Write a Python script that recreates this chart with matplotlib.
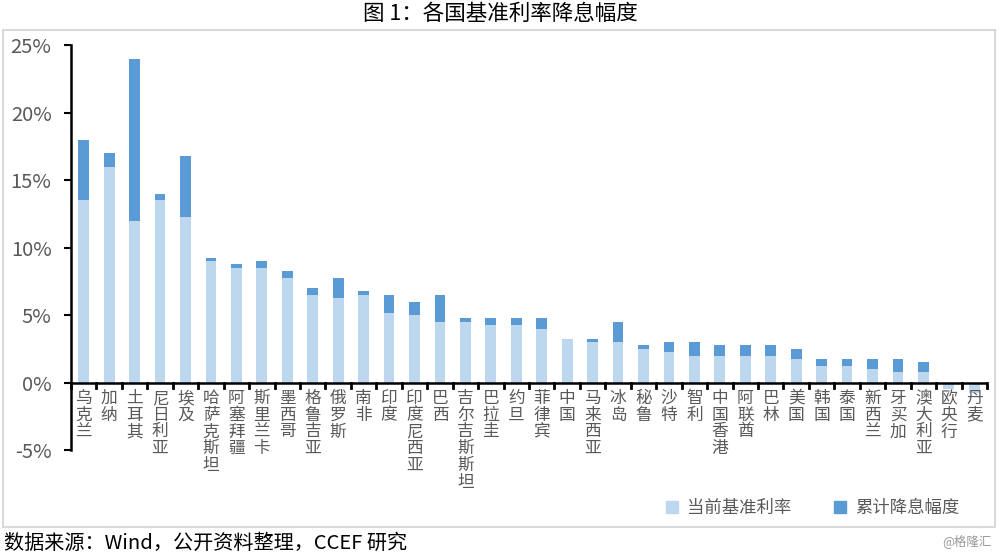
import matplotlib as mpl
mpl.use('Agg')
import matplotlib.pyplot as plt
import matplotlib.ticker as tk
from matplotlib.patches import Rectangle, Patch

plt.rcParams['font.family'] = ['Noto Sans CJK SC', 'DejaVu Sans']

countries = ['乌克兰', '加纳', '土耳其', '尼日利亚', '埃及', '哈萨克斯坦', '阿塞拜疆', '斯里兰卡',
             '墨西哥', '格鲁吉亚', '俄罗斯', '南非', '印度', '印度尼西亚', '巴西', '吉尔吉斯斯坦',
             '巴拉圭', '约旦', '菲律宾', '中国', '马来西亚', '冰岛', '秘鲁', '沙特', '智利',
             '中国香港', '阿联酋', '巴林', '美国', '韩国', '泰国', '新西兰', '牙买加', '澳大利亚',
             '欧央行', '丹麦']
# current policy rate (%)
current_rate = [13.5, 16.0, 12.0, 13.5, 12.25, 9.0, 8.5, 8.5, 7.75, 6.5, 6.25, 6.5, 5.15, 5.0,
                4.5, 4.5, 4.25, 4.25, 4.0, 3.25, 3.0, 3.0, 2.5, 2.25, 2.0, 2.0, 2.0, 2.0,
                1.75, 1.25, 1.25, 1.0, 0.75, 0.75, -0.5, -0.75]
# cumulative cut (%)
cut = [4.5, 1.0, 12.0, 0.5, 4.5, 0.25, 0.25, 0.5, 0.5, 0.5, 1.5, 0.25, 1.35, 1.0, 2.0,
       0.25, 0.5, 0.5, 0.75, 0.0, 0.25, 1.5, 0.25, 0.75, 1.0, 0.75, 0.75, 0.75, 0.75,
       0.5, 0.5, 0.75, 1.0, 0.75, 0.0, 0.0]
series_names = ['当前基准利率', '累计降息幅度']

light = '#BDD7EE'
dark = '#5B9BD5'

fig = plt.figure(figsize=(10, 5.57), dpi=100)
ax = fig.add_axes([0.071, 0.192, 0.916, 0.727])

x = list(range(len(countries)))
ax.bar(x, current_rate, width=0.42, color=light, zorder=2)
ax.bar(x, cut, width=0.42, bottom=current_rate, color=dark, zorder=2)

ax.set_ylim(-5, 25)
ax.set_xlim(-0.5, len(countries) - 0.5)
ax.yaxis.set_major_locator(tk.MultipleLocator(5))
ax.yaxis.set_major_formatter(tk.FuncFormatter(lambda v, p: '%d%%' % v))
ax.tick_params(axis='y', labelsize=14.5, labelcolor='#595959', length=5, width=1.5, pad=9)

for s in ['top', 'right', 'bottom']:
    ax.spines[s].set_visible(False)
ax.spines['left'].set_linewidth(1.8)
ax.axhline(0, color='black', lw=1.8, zorder=3)

# ticks between categories on the zero line
for b in range(len(countries) + 1):
    ax.plot([b - 0.5, b - 0.5], [0, -0.4], color='black', lw=2, zorder=3, clip_on=False)

ax.set_xticks(x)
ax.set_xticklabels([])
ax.tick_params(axis='x', length=0)
for i, name in enumerate(countries):
    ax.text(i, -0.55, '\n'.join(name), ha='center', va='top', fontsize=12,
            color='#595959', linespacing=0.98, zorder=4)

fig.text(0.5, 0.975, '图 1：各国基准利率降息幅度', ha='center', va='center', fontsize=15.5)
fig.patches.append(Rectangle((0.003, 0.054), 0.992, 0.892, transform=fig.transFigure,
                             fill=False, edgecolor='#D9D9D9', lw=1.5))

handles = [Patch(color=light), Patch(color=dark)]
fig.legend(handles, series_names, loc='center right', bbox_to_anchor=(0.975, 0.088), ncol=2,
           frameon=False, fontsize=12.5, handlelength=0.7, handleheight=0.7,
           handletextpad=0.5, columnspacing=2.5, labelcolor='#595959')

fig.text(0.004, 0.024, '数据来源：Wind，公开资料整理，CCEF 研究', ha='left', va='center',
         fontsize=14.5)
fig.text(0.992, 0.028, '@格隆汇', ha='right', va='center', fontsize=9, color='#999999')

plt.savefig('out.png')
